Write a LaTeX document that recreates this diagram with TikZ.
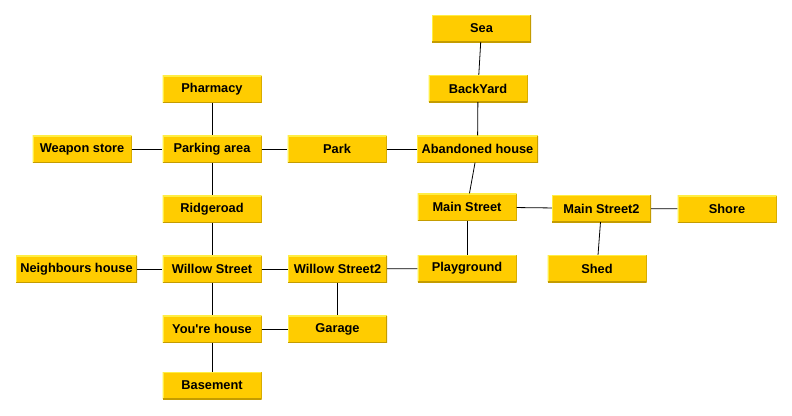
\documentclass[tikz,border=0pt]{standalone}
\usepackage{fontspec}
\setmainfont{Liberation Sans}[Ligatures=TeXOff]
\definecolor{boxfill}{HTML}{FFCC00}
\definecolor{boxlight}{HTML}{FFEE44}
\definecolor{boxdark}{HTML}{C49C00}
\begin{document}
\begin{tikzpicture}[x=1pt,y=-1pt,
  box/.style={fill=boxfill, inner sep=0pt, minimum width=99pt, minimum height=27pt,
    font=\fontsize{12.8}{14}\selectfont\bfseries,
    path picture={
      \draw[boxlight, line width=2pt] (path picture bounding box.south west) -- (path picture bounding box.north west) -- (path picture bounding box.north east);
      \draw[boxdark, line width=2pt] (path picture bounding box.north east) -- (path picture bounding box.south east) -- (path picture bounding box.south west);
    }},
  wide/.style={minimum width=121pt},
  link/.style={draw=black, line width=0.8pt}]
\useasboundingbox (0,0) rectangle (792,415);
\fill[white] (0,0) rectangle (792,415);
\node[box] (sea) at (481.5,28.5) {Sea};
\node[box] (back) at (478,88.5) {BackYard};
\node[box] (pharm) at (212,89) {Pharmacy};
\node[box] (weapon) at (82,149) {Weapon store};
\node[box] (parking) at (212,149) {Parking area};
\node[box] (park) at (337,149) {Park};
\node[box,wide] (aband) at (477.5,149) {Abandoned house};
\node[box] (main) at (467,207) {Main Street};
\node[box] (main2) at (601.5,208.5) {Main Street2};
\node[box] (shore) at (727,209) {Shore};
\node[box] (shed) at (597,268.5) {Shed};
\node[box] (play) at (467,268.5) {Playground};
\node[box] (ridge) at (212,209) {Ridgeroad};
\node[box,wide] (neigh) at (76.5,269) {Neighbours house};
\node[box] (willow) at (212,269) {Willow Street};
\node[box] (willow2) at (337.5,269) {Willow Street2};
\node[box] (yours) at (212,329) {You're house};
\node[box] (garage) at (337.5,329) {Garage};
\node[box] (base) at (212,385.5) {Basement};
\draw[link] (sea) -- (back);
\draw[link] (back) -- (aband);
\draw[link] (pharm) -- (parking);
\draw[link] (weapon) -- (parking);
\draw[link] (parking) -- (park);
\draw[link] (park) -- (aband);
\draw[link] (parking) -- (ridge);
\draw[link] (ridge) -- (willow);
\draw[link] (neigh) -- (willow);
\draw[link] (willow) -- (willow2);
\draw[link] (willow2) -- (play);
\draw[link] (willow) -- (yours);
\draw[link] (willow2) -- (garage);
\draw[link] (yours) -- (garage);
\draw[link] (yours) -- (base);
\draw[link] (aband) -- (main);
\draw[link] (main) -- (play);
\draw[link] (main) -- (main2);
\draw[link] (main2) -- (shore);
\draw[link] (main2) -- (shed);
\end{tikzpicture}
\end{document}
